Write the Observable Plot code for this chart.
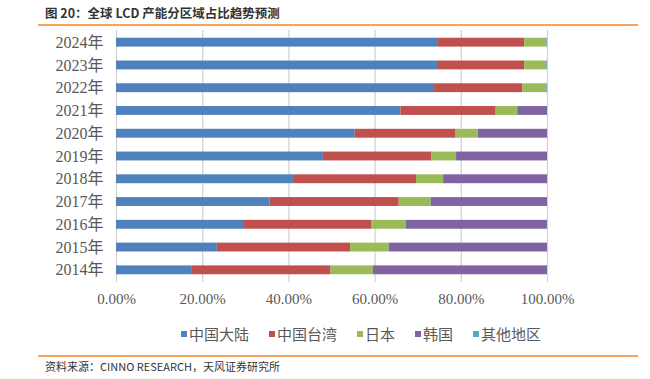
<!DOCTYPE html>
<html>
<head>
<meta charset="utf-8">
<script src="https://cdn.jsdelivr.net/npm/d3@7"></script>
<script src="https://cdn.jsdelivr.net/npm/@observablehq/plot@0.6"></script>
<style>
  html, body { margin: 0; padding: 0; background: #fff; }
  #wrap { position: relative; width: 650px; height: 379px; overflow: hidden; font-family: "Noto Sans CJK SC", "Noto Sans", sans-serif; }
  #title { position: absolute; left: 45px; top: 3px; font-size: 12.5px; font-weight: bold; color: #333; }
  .rule { position: absolute; left: 38px; width: 600px; height: 1.5px; background: #F7A35C; }
  #chart { position: absolute; left: 0; top: 25px; }
  #legend { position: absolute; top: 323px; left: 0; width: 650px; display: flex; justify-content: center; padding-left: 72px; box-sizing: border-box; font-size: 15px; color: #595959; font-family: "Noto Sans CJK SC", serif; }
  #legend .item { display: flex; align-items: center; margin: 0 10px; }
  #legend .sw { width: 6px; height: 6px; margin-right: 2px; }
  #caption { position: absolute; left: 45px; top: 358px; font-size: 11px; color: #333; }
</style>
</head>
<body>
<div id="wrap">
  <div id="title">图 20：全球 LCD 产能分区域占比趋势预测</div>
  <div class="rule" style="top:24px"></div>
  <div id="chart"></div>
  <div id="legend"></div>
  <div class="rule" style="top:355px"></div>
  <div id="caption">资料来源：CINNO RESEARCH，天风证券研究所</div>
</div>
<script>
const years = ["2014年","2015年","2016年","2017年","2018年","2019年","2020年","2021年","2022年","2023年","2024年"];
const seriesNames = ["中国大陆","中国台湾","日本","韩国","其他地区"];
const colors = ["#4F81BD","#C0504D","#9BBB59","#8064A2","#4BACC6"];
const mainland = [17.6, 23.4, 29.7, 35.6, 41.3, 48.0, 55.4, 66.0, 73.8, 74.5, 74.5];
const taiwan   = [32.2, 30.9, 29.6, 30.0, 28.3, 25.2, 23.4, 22.1, 20.5, 20.2, 20.2];
const japan    = [9.8, 9.0, 7.9, 7.4, 6.3, 5.7, 5.2, 5.0, 5.4, 5.0, 5.0];
const korea    = [40.4, 36.7, 32.8, 27.0, 24.1, 21.1, 16.0, 6.9, 0.2, 0.2, 0.2];
const others   = [0, 0, 0, 0, 0, 0, 0, 0, 0.1, 0.1, 0.1];
const xTicks = [0, 20, 40, 60, 80, 100];

const seriesValues = [mainland, taiwan, japan, korea, others];
const data = [];
seriesValues.forEach((vals, si) => {
  years.forEach((y, i) => data.push({year: y, series: seriesNames[si], value: vals[i]}));
});

const plot = Plot.plot({
  width: 650,
  height: 290,
  marginLeft: 116,
  marginRight: 103,
  marginTop: 5,
  marginBottom: 33,
  style: {background: "transparent", overflow: "visible"},
  x: {domain: [0, 100], ticks: xTicks, tickFormat: d => d.toFixed(2) + "%", tickSize: 0, tickPadding: 11, label: null},
  y: {domain: years.slice().reverse(), paddingInner: 0.61, paddingOuter: 0.34, round: false, tickSize: 0, tickPadding: 13, label: null},
  color: {domain: seriesNames, range: colors},
  marks: [
    Plot.ruleX(xTicks, {stroke: "#d0d0d0", strokeWidth: 1.2}),
    Plot.barX(data, Plot.stackX({x: "value", y: "year", fill: "series", order: seriesNames})),
    Plot.axisX({ticks: xTicks, tickFormat: d => d.toFixed(2) + "%", tickSize: 0, tickPadding: 11, fontSize: 15, fill: "#595959", fontFamily: "Liberation Serif, serif", label: null}),
    Plot.axisY({tickSize: 0, tickPadding: 13, fontSize: 16, fill: "#595959", fontFamily: "Liberation Serif, 'Noto Sans CJK SC', serif", label: null})
  ]
});
document.getElementById("chart").appendChild(plot);

const legend = document.getElementById("legend");
seriesNames.forEach((n, i) => {
  const it = document.createElement("div");
  it.className = "item";
  it.innerHTML = `<span class="sw" style="background:${colors[i]}"></span><span>${n}</span>`;
  legend.appendChild(it);
});
</script>
</body>
</html>
